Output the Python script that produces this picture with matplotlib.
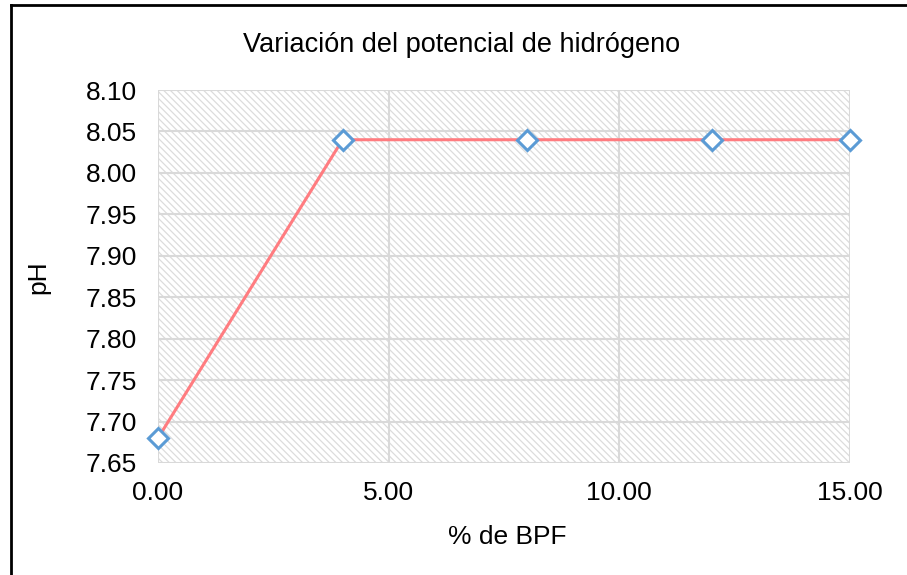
import matplotlib
matplotlib.use('Agg')
import matplotlib.pyplot as plt
from matplotlib.lines import Line2D

plt.rcParams['font.family'] = ['Liberation Sans', 'DejaVu Sans']
plt.rcParams['hatch.color'] = '#dcdcdc'
plt.rcParams['hatch.linewidth'] = 0.9

bpf = [0, 4, 8, 12, 15]
ph = [7.68, 8.04, 8.04, 8.04, 8.04]
xticks = [0, 5, 10, 15]
yticks = [7.65, 7.70, 7.75, 7.80, 7.85, 7.90, 7.95, 8.00, 8.05, 8.10]

fig = plt.figure(figsize=(9.07, 5.75), dpi=100)
ax = fig.add_axes([158/907, 1 - 463/575, (850 - 158)/907, (463 - 90)/575])

ax.patch.set_facecolor('white')
ax.patch.set_hatch('\\\\\\\\\\')
ax.patch.set_edgecolor('#dcdcdc')
ax.patch.set_linewidth(0)

ax.grid(True, color='#d9d9d9', linewidth=1.5, zorder=1)
ax.set_axisbelow(True)

ax.plot(bpf, ph, color='#ff7c80', linewidth=2.2, zorder=3, clip_on=False)
ax.plot(bpf, ph, linestyle='none', marker='D', markersize=10,
        markerfacecolor='white', markeredgecolor='#5b9bd5',
        markeredgewidth=2.2, zorder=4, clip_on=False)

ax.set_xlim(0, 15)
ax.set_ylim(7.65, 8.10)
ax.set_xticks(xticks)
ax.set_xticklabels([f'{x:.2f}' for x in xticks])
ax.set_yticks(yticks)
ax.set_yticklabels([f'{y:.2f}' for y in yticks])
ax.tick_params(length=0, labelsize=19)
ax.tick_params(axis='y', pad=15)
ax.tick_params(axis='x', pad=13)
for s in ax.spines.values():
    s.set_visible(False)

fig.text(507/907, 1 - 537/575, '% de BPF', fontsize=19, ha='center', va='center')
fig.text(38/907, 1 - 277/575, 'pH', fontsize=19, ha='center', va='center',
         rotation=90)
fig.text(462/907, 1 - 45/575, 'Variación del potencial de hidrógeno',
         fontsize=19.5, ha='center', va='center')

# outer chart frame (left and top edges visible)
fig.add_artist(Line2D([11/907, 11/907], [0, 1 - 5/575], color='black', linewidth=2))
fig.add_artist(Line2D([11/907, 1], [1 - 5/575, 1 - 5/575], color='black', linewidth=2))

fig.savefig('out.png', dpi=100)
